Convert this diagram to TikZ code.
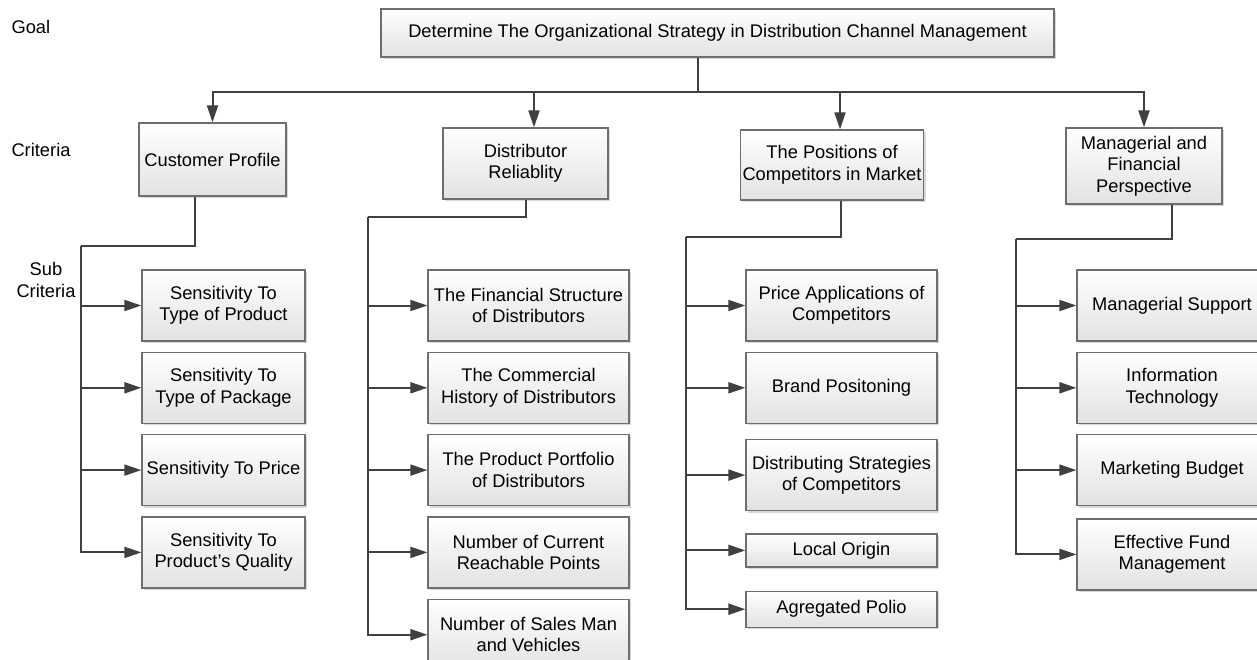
\documentclass[tikz,border=0pt]{standalone}
\usepackage{fontspec}
\setmainfont{Liberation Sans}
\usetikzlibrary{arrows.meta,positioning,shadows}
\definecolor{linegray}{HTML}{404040}
\definecolor{edgegray}{HTML}{6E6E6E}
\definecolor{fillgray}{HTML}{E2E2E2}

\begin{document}
\begin{tikzpicture}[x=1pt,y=-1pt,>={Triangle[length=17pt,width=11pt]},
                    font=\fontsize{18.3}{21.5}\selectfont,node distance=10pt]
  \tikzstyle{box}=[draw=edgegray,line width=1.3pt,top color=white,bottom color=fillgray,
                   drop shadow={shadow xshift=2pt,shadow yshift=-2pt,opacity=0.3},
                   align=center,inner sep=2pt]
  \tikzstyle{sub}=[box,minimum height=71pt]
  \tikzstyle{colA}=[sub,minimum width=163pt]
  \tikzstyle{colB}=[sub,minimum width=201pt]
  \tikzstyle{colC}=[sub,minimum width=191pt]
  \tikzstyle{colD}=[sub,minimum width=190pt]
  \tikzstyle{link}=[draw=linegray,line width=2pt]

  \useasboundingbox (0,0) rectangle (1257,660);

  % level labels
  \node[anchor=west]  (lgoal) at (8,27)  {Goal};
  \node[anchor=west]  (lcrit) at (8,150) {Criteria};
  \node[align=center] (lsub)  at (46,280) {Sub\\Criteria};

  % goal and criteria
  \node[box,minimum width=673pt,minimum height=48pt] (goal) at (717.5,33)
       {Determine The Organizational Strategy in Distribution Channel Management};
  \node[box,minimum width=147pt,minimum height=73pt] (c1) at (212.5,159.5) {Customer Profile};
  \node[box,minimum width=165pt,minimum height=71pt] (c2) at (525.5,163.5) {Distributor\\Reliablity};
  \node[box,minimum width=178pt,minimum height=70pt] (c3) at (832,165) {The Positions of\\Competitors in Market};
  \node[box,minimum width=156pt,minimum height=76pt] (c4) at (1144,166) {Managerial and\\Financial\\Perspective};

  % sub criteria
  \node[colA] (s11) at (223.5,305.5) {Sensitivity To\\Type of Product};
  \node[colA] (s12) [below=of s11]   {Sensitivity To\\Type of Package};
  \node[colA] (s13) [below=of s12]   {Sensitivity To Price};
  \node[colA] (s14) [below=of s13]   {Sensitivity To\\Product's Quality};

  \node[colB] (s21) at (528.5,305.5) {The Financial Structure\\of Distributors};
  \node[colB] (s22) [below=of s21]   {The Commercial\\History of Distributors};
  \node[colB] (s23) [below=of s22]   {The Product Portfolio\\of Distributors};
  \node[colB] (s24) [below=of s23]   {Number of Current\\Reachable Points};
  \node[colB] (s25) [below=of s24]   {Number of Sales Man\\and Vehicles};

  \node[colC] (s31) at (841.5,305.5)                      {Price Applications of\\Competitors};
  \node[colC] (s32) [below=of s31]                        {Brand Positoning};
  \node[colC] (s33) [below=15pt of s32]                   {Distributing Strategies\\of Competitors};
  \node[colC,minimum height=33pt] (s34) [below=22pt of s33] {Local Origin};
  \node[colC,minimum height=36pt] (s35) [below=23pt of s34] {Agregated Polio};

  \node[colD] (s41) at (1172,305.5)  {Managerial Support};
  \node[colD] (s42) [below=of s41]   {Information\\Technology};
  \node[colD] (s43) [below=of s42]   {Marketing Budget};
  \node[colD] (s44) [below=12pt of s43] {Effective Fund\\Management};

  % goal to criteria
  \coordinate (split) at (698,92);
  \draw[link] (goal.south -| split) -- (split);
  \draw[link,->] (split) -| (c1.north);
  \draw[link,->] (split) -| (c4.north);
  \draw[link,->] ([xshift=8.5pt]c2.north |- split) -- ([xshift=8.5pt]c2.north);
  \draw[link,->] ([xshift=8pt]c3.north |- split) -- ([xshift=8pt]c3.north);

  % criteria to sub criteria
  \coordinate (b1) at (81,246);
  \coordinate (b2) at (368,217);
  \coordinate (b3) at (686,237);
  \coordinate (b4) at (1016,239);
  \draw[link] ([xshift=-17.5pt]c1.south) |- (b1);
  \draw[link] (c2.south) |- (b2);
  \draw[link] ([xshift=9pt]c3.south) |- (b3);
  \draw[link] ([xshift=28pt]c4.south) |- (b4);
  \draw[link,->] (b1) |- (s14.west);
  \draw[link,->] (b2) |- (s25.west);
  \draw[link,->] (b3) |- (s35.west);
  \draw[link,->] (b4) |- (s44.west);
  \foreach \s in {s11,s12,s13}
    \draw[link,->] (b1 |- \s.west) -- (\s.west);
  \foreach \s in {s21,s22,s23,s24}
    \draw[link,->] (b2 |- \s.west) -- (\s.west);
  \foreach \s in {s31,s32,s33,s34}
    \draw[link,->] (b3 |- \s.west) -- (\s.west);
  \foreach \s in {s41,s42,s43}
    \draw[link,->] (b4 |- \s.west) -- (\s.west);
\end{tikzpicture}
\end{document}
